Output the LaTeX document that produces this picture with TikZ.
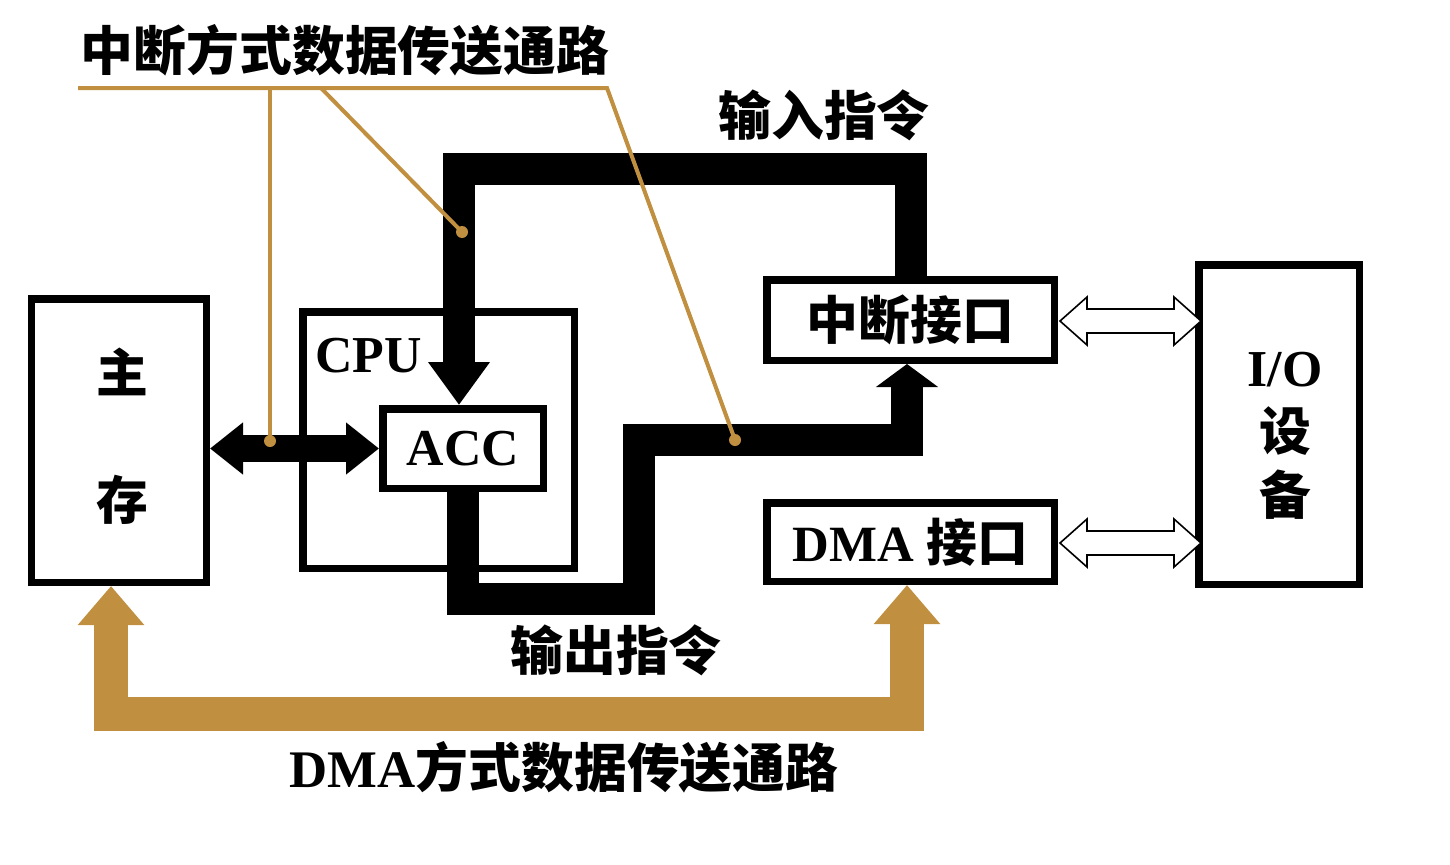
\documentclass[tikz,border=0pt]{standalone}
\usepackage{fontspec}
\setmainfont{Liberation Serif}
\newfontfamily\cjk{Noto Sans CJK SC}
\usetikzlibrary{arrows.meta,calc}
\definecolor{gold}{RGB}{193,143,64}
\newcommand\zhtxt[1]{{\cjk\bfseries #1}}
\begin{document}
\begin{tikzpicture}[x=1bp,y=-1bp,
  box/.style={draw,line width=7.5bp,fill=white,inner sep=0pt},
  lbl/.style={inner sep=0pt,font=\bfseries\fontsize{52}{52}\selectfont},
  bigblk/.style={line width=32bp,line join=miter},
  goldpath/.style={draw=gold,line width=34bp,line join=miter},
  leader/.style={draw=gold,line width=4bp},
  hollow/.style={draw,line width=1.6bp,fill=white,line join=miter},
  dblarrow/.pic={\draw[hollow] (0,0) -- (27,-24) -- (27,-12) -- (114,-12) -- (114,-24) -- (141,0) -- (114,24) -- (114,12) -- (27,12) -- (27,24) -- cycle;}
]
\useasboundingbox (0,0) rectangle (1450,864);
% boxes
\node[box,minimum width=174.5bp,minimum height=283.5bp] (mem) at (119,440.5) {};
\node[box,minimum width=271.5bp,minimum height=256.5bp] (cpu) at (438.5,440) {};
\node[box,minimum width=160.5bp,minimum height=79.5bp,font=\bfseries\fontsize{52}{52}\selectfont] (acc) at (463,448.5) {ACC};
\node[box,minimum width=287.5bp,minimum height=80.5bp,font=\bfseries\fontsize{52}{52}\selectfont] (zd) at (910.5,320) {\zhtxt{中断接口}};
\node[box,minimum width=287.5bp,minimum height=78.5bp,font=\bfseries\fontsize{51}{51}\selectfont] (dma) at (910.5,542) {DMA \zhtxt{接口}};
\node[box,minimum width=160.5bp,minimum height=319.5bp] (io) at (1279,424.5) {};
% texts
\node[lbl] (zhu) at (122,372) {\zhtxt{主}};
\node[lbl] (cun) at (122,500) {\zhtxt{存}};
\node[lbl,anchor=base west] (cpul) at (315,372) {CPU};
\node[lbl] (iol) at (1285,370) {I/O};
\node[lbl] (she) at (1285,431) {\zhtxt{设}};
\node[lbl] (bei) at (1285,495) {\zhtxt{备}};
\node[lbl,font=\bfseries\fontsize{53}{53}\selectfont] (title) at (345,50) {\zhtxt{中断方式数据传送通路}};
\node[lbl,font=\bfseries\fontsize{53}{53}\selectfont] (tin) at (824,115) {\zhtxt{输入指令}};
\node[lbl,font=\bfseries\fontsize{53}{53}\selectfont] (tout) at (616,650) {\zhtxt{输出指令}};
\node[lbl,font=\bfseries\fontsize{53}{53}\selectfont] (tdma) at (564,767) {DMA\zhtxt{方式数据传送通路}};
% memory <-> ACC
\draw[line width=27bp,{Triangle[length=33bp,width=50bp]}-{Triangle[length=33bp,width=50bp]}] (mem.east |- acc.west) -- (acc.west);
% input instruction path
\coordinate (inTL) at (459,168.5);
\draw[bigblk,-{Triangle[length=43bp,width=59bp]}] (zd.north) |- (inTL) -- (inTL |- acc.north);
% output instruction path
\draw[bigblk,-{Triangle[length=23bp,width=61bp]}] (acc.south) |- (639,599) |- (907,440) -- ($(zd.south)+(-3.5,0)$);
% DMA path
\draw[goldpath,{Triangle[length=39bp,width=64bp]}-{Triangle[length=39bp,width=64bp]}] ($(mem.south)+(-8,0)$) |- (907,714) -- ($(dma.south)+(-3.5,0)$);
% hollow double arrows
\pic at ($(zd.east)+(2,1)$) {dblarrow};
\pic at ($(dma.east)+(2,1)$) {dblarrow};
% leaders
\coordinate (uL) at (78,88);
\coordinate (uR) at (607,88);
\coordinate (d1) at (270,441);
\coordinate (d2) at (462,232);
\coordinate (d3) at (735,440);
\draw[leader] (uL) -- (uR) -- (d3);
\draw[leader] (uL -| d1) -- (d1);
\draw[leader] (321,88) -- (d2);
\fill[gold] (d1) circle (6bp) (d2) circle (6bp) (d3) circle (6bp);
\end{tikzpicture}
\end{document}
